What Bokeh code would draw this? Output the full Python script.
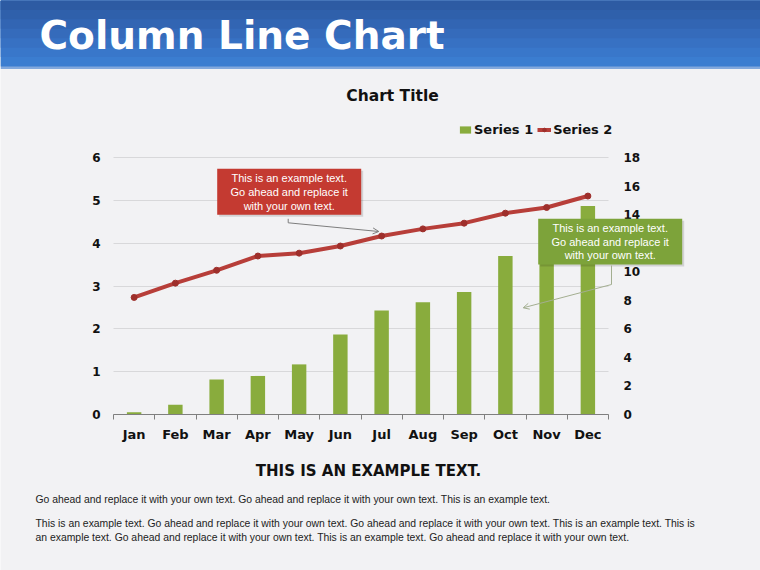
from bokeh.plotting import figure
from bokeh.models import (Range1d, LinearAxis, FixedTicker, Legend, LegendItem,
                          Label, BoxAnnotation, Arrow, OpenHead, Grid)
from bokeh.embed import file_html
from bokeh.resources import INLINE

# ---------------- data ----------------
months = ["Jan", "Feb", "Mar", "Apr", "May", "Jun",
          "Jul", "Aug", "Sep", "Oct", "Nov", "Dec"]
series1 = [0.05, 0.23, 0.82, 0.90, 1.17, 1.87, 2.43, 2.62, 2.86, 3.70, 4.20, 4.87]
series2 = [8.2, 9.2, 10.1, 11.1, 11.3, 11.8, 12.5, 13.0, 13.4, 14.1, 14.5, 15.3]
left_ticks = [0, 1, 2, 3, 4, 5, 6]
right_ticks = [0, 2, 4, 6, 8, 10, 12, 14, 16, 18]

page_title = "Column Line Chart"
chart_title = "Chart Title"
callout_text = "This is an example text.\nGo ahead and replace it\nwith your own text."
footer_title = "THIS IS AN EXAMPLE TEXT."
footer_lines = [
    "Go ahead and replace it with your own text. Go ahead and replace it with your own text. This is an example text.",
    "This is an example text. Go ahead and replace it with your own text. Go ahead and replace it with your own text. This is an example text. This is",
    "an example text. Go ahead and replace it with your own text. This is an example text. Go ahead and replace it with your own text.",
]

# ---------------- layout (pixels on the page) ----------------
W, H = 760, 570
CL, CR, CT, CB = 113, 608, 157, 414          # chart area
BG = "#f2f2f4"
BAR = "#89ac3d"
LINE = "#b73e39"
MARK = "#9e2f2b"
BOLD = "DejaVu Sans"
REG = "Liberation Sans"

ppc = (CR - CL) / len(months)
ppu = (CB - CT) / (left_ticks[-1] - left_ticks[0])
ratio = (right_ticks[-1] - right_ticks[0]) / (left_ticks[-1] - left_ticks[0])


def X(px):
    return -0.5 + (px - CL) / ppc


def Y(py):
    return left_ticks[0] + (CB - py) / ppu


p = figure(width=W, height=H, x_range=Range1d(X(0), X(W)), y_range=Range1d(Y(H), Y(0)),
           output_backend="svg", toolbar_location=None, min_border=0)
p.extra_y_ranges = {"right": Range1d(Y(H) * ratio, Y(0) * ratio)}
p.background_fill_color = BG
p.border_fill_color = BG
p.outline_line_color = None

# ---------------- header ----------------
p.add_layout(BoxAnnotation(left=X(0), right=X(W), top=Y(0), bottom=Y(68.5),
                           fill_color="#82a8dc", fill_alpha=1, line_color=None))
blues = ["#3b7dd0", "#3977ca", "#3771c3", "#356bbb", "#3265b3", "#2f60ab", "#2d5ba3"]
step = 66 / len(blues)
for i, c in enumerate(blues):
    p.add_layout(BoxAnnotation(left=X(0), right=X(W), top=Y(0),
                               bottom=Y(66 - i * step),
                               fill_color=c, fill_alpha=1, line_color=None))
p.add_layout(Label(x=X(39), y=Y(35), text=page_title, text_font=BOLD,
                   text_font_style="bold", text_font_size="39px", text_color="white",
                   text_baseline="middle", text_align="left"))

# ---------------- chart ----------------
xc = list(range(len(months)))
bars = p.vbar(x=xc, top=series1, width=0.35, fill_color=BAR, line_color=None)
ln = p.line(xc, series2, y_range_name="right", line_color=LINE, line_width=4)
mk = p.scatter(xc, series2, y_range_name="right", size=6, fill_color=MARK,
               line_color=MARK)

# bottom axis
xa = p.xaxis[0]
xa.fixed_location = left_ticks[0]
xa.bounds = (-0.5, len(months) - 0.5)
xa.ticker = FixedTicker(ticks=xc, minor_ticks=[i - 0.5 for i in range(len(months) + 1)])
xa.major_label_overrides = {i: m for i, m in enumerate(months)}
xa.major_tick_out = 0
xa.major_tick_in = 0
xa.minor_tick_out = 5
xa.minor_tick_in = 0
xa.minor_tick_line_color = "#7f7f7f"
xa.axis_line_color = "#7f7f7f"
xa.major_label_standoff = 7
xa.major_label_text_font = BOLD
xa.major_label_text_font_style = "bold"
xa.major_label_text_font_size = "13px"
xa.major_label_text_color = "#111111"

# left axis
ya = p.yaxis[0]
ya.fixed_location = -0.5
ya.bounds = (left_ticks[0], left_ticks[-1])
ya.ticker = FixedTicker(ticks=left_ticks)
ya.major_tick_out = 0
ya.major_tick_in = 0
ya.minor_tick_out = 0
ya.minor_tick_in = 0
ya.axis_line_color = None
ya.major_label_standoff = 13
ya.major_label_text_font = BOLD
ya.major_label_text_font_style = "bold"
ya.major_label_text_font_size = "12px"
ya.major_label_text_color = "#111111"

# right axis
ra = LinearAxis(y_range_name="right", ticker=FixedTicker(ticks=right_ticks),
                fixed_location=len(months) - 0.5,
                bounds=(right_ticks[0], right_ticks[-1]),
                major_tick_out=0, major_tick_in=0, minor_tick_out=0, minor_tick_in=0,
                axis_line_color=None, major_label_standoff=15,
                major_label_text_font=BOLD, major_label_text_font_style="bold",
                major_label_text_font_size="12px", major_label_text_color="#111111")
p.add_layout(ra, "right")

p.xgrid.grid_line_color = None
yg = p.ygrid[0]
if "cross_bounds" in Grid.properties():
    yg.cross_bounds = (-0.5, len(months) - 0.5)
    yg.grid_line_color = "#d8d8da"
    yg.grid_line_width = 1
else:
    yg.grid_line_color = None
    p.segment(x0=-0.5, x1=len(months) - 0.5, y0=left_ticks, y1=left_ticks,
              line_color="#d8d8da", line_width=1, level="underlay")

# chart title
p.add_layout(Label(x=X(392), y=Y(95), text=chart_title, text_align="center",
                   text_baseline="middle", text_font=BOLD, text_font_style="bold",
                   text_font_size="15.5px", text_color="#111111"))

# legend
legend = Legend(items=[LegendItem(label="Series 1", renderers=[bars]),
                       LegendItem(label="Series 2", renderers=[ln, mk])],
                orientation="horizontal", location=(458, H - 137),
                padding=0, margin=0, spacing=4, label_standoff=2,
                glyph_width=14, glyph_height=9, label_height=16,
                label_text_font=BOLD, label_text_font_style="bold",
                label_text_font_size="13px", label_text_color="#111111",
                border_line_alpha=0, background_fill_alpha=0)
p.add_layout(legend)


# callouts
def callout(left, right, top, bottom, color):
    p.add_layout(BoxAnnotation(left=X(left + 2), right=X(right + 2),
                               bottom=Y(bottom + 2), top=Y(top + 2),
                               fill_color="black", fill_alpha=0.13, line_color=None))
    p.add_layout(BoxAnnotation(left=X(left), right=X(right), bottom=Y(bottom), top=Y(top),
                               fill_color=color, fill_alpha=1, line_color=None))
    p.add_layout(Label(x=X((left + right) / 2), y=Y((top + bottom) / 2), text=callout_text,
                       text_align="center", text_baseline="middle", text_font=REG,
                       text_font_size="11px", text_color="white", text_line_height=1.15))


def connector(x0, y0, y1, x2, y2, color):
    p.add_layout(Arrow(end=None, x_start=X(x0), y_start=Y(y0), x_end=X(x0), y_end=Y(y1),
                       line_color=color, line_width=1))
    p.add_layout(Arrow(end=OpenHead(size=6, line_color=color, line_width=1),
                       x_start=X(x0), y_start=Y(y1), x_end=X(x2), y_end=Y(y2),
                       line_color=color, line_width=1))


callout(216.7, 360.7, 168.3, 214.3, "#c43a31")
connector(287.7, 218.3, 222.3, 378.3, 231.0, "#7d7d7d")
callout(537.7, 681.7, 218.3, 264.0, "#7da33a")
connector(611.0, 265.0, 284.0, 522.7, 307.3, "#a3ae90")

# ---------------- footer ----------------
p.add_layout(Label(x=X(368), y=Y(470.7), text=footer_title, text_font=BOLD,
                   text_font_style="bold", text_font_size="15px", text_color="#111111",
                   text_align="center", text_baseline="middle"))
for line_y, line_text in zip([499, 522.7, 536.7], footer_lines):
    p.add_layout(Label(x=X(35), y=Y(line_y), text=line_text, text_font=REG,
                       text_font_size="10.4px", text_color="#222222",
                       text_align="left", text_baseline="middle"))

open("out.html", "w").write(file_html(p, INLINE))
